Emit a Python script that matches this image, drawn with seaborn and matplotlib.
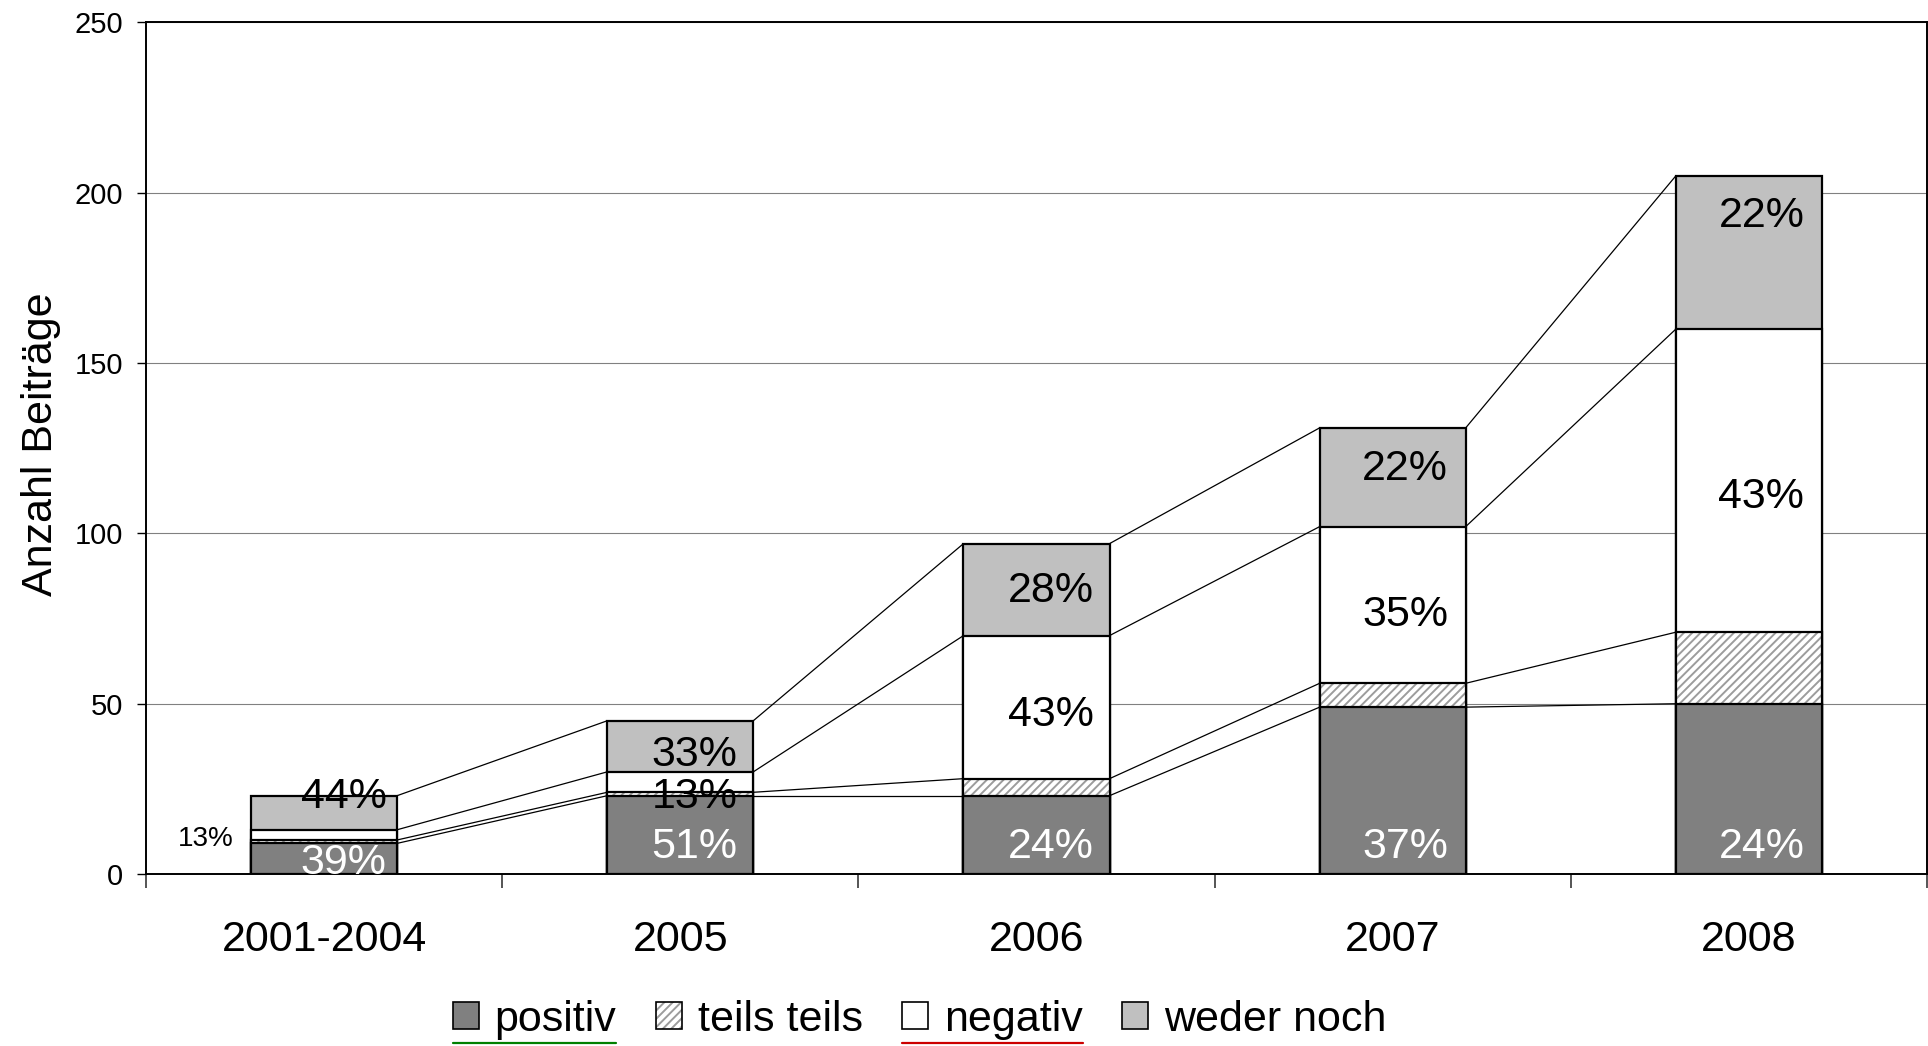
import numpy as np
import matplotlib
matplotlib.use("Agg")
import matplotlib.pyplot as plt
import matplotlib.colors as mcolors
from matplotlib.patches import Patch
from matplotlib.lines import Line2D
import seaborn as sns

# --- data -------------------------------------------------------------
categories = ["2001-2004", "2005", "2006", "2007", "2008"]
positiv = [9, 23, 23, 49, 50]
teils_teils = [1, 1, 5, 7, 21]
negativ = [3, 6, 42, 46, 89]
weder_noch = [10, 15, 27, 29, 45]

pct_positiv = ["39%", "51%", "24%", "37%", "24%"]
pct_negativ = ["13%", "13%", "43%", "35%", "43%"]
pct_weder = ["44%", "33%", "28%", "22%", "22%"]

series_names = ["positiv", "teils teils", "negativ", "weder noch"]
y_ticks = [0, 50, 100, 150, 200, 250]

# --- style ------------------------------------------------------------
sns.set_style("white")
plt.rcParams["font.family"] = ["Liberation Sans", "DejaVu Sans"]
plt.rcParams["hatch.linewidth"] = 1.4
plt.rcParams["text.color"] = "black"
plt.rcParams["axes.labelcolor"] = "black"
plt.rcParams["xtick.color"] = "black"
plt.rcParams["ytick.color"] = "black"
plt.rcParams["legend.labelcolor"] = "black"

col_pos = "#808080"
col_neg = "#ffffff"
col_wed = "#c0c0c0"
hatch_col = "#9c9c9c"
series_colors = [col_pos, "#ffffff", col_neg, col_wed]
series_hatch = [None, "////", None, None]

BAR_W = 0.41
EDGE_LW = 1.6

fig = plt.figure(figsize=(19.28, 10.46), dpi=100)
ax = fig.add_axes([0.0757, 0.1644, 0.9238, 0.8141])

segments = np.array([positiv, teils_teils, negativ, weder_noch], dtype=float)
cum = np.cumsum(segments, axis=0)

# stacked bars: cumulative totals drawn from the top series down
for k in [3, 2, 1, 0]:
    kws = dict(x=categories, y=cum[k], color=series_colors[k], saturation=1,
               width=BAR_W, edgecolor="black", linewidth=EDGE_LW,
               errorbar=None, ax=ax, zorder=2)
    if series_hatch[k]:
        kws["hatch"] = series_hatch[k]
    sns.barplot(**kws)
    if series_hatch[k]:
        for p in ax.containers[-1]:
            if hasattr(p, "set_hatchcolor"):
                p.set_hatchcolor(hatch_col)
            else:
                p._hatch_color = mcolors.to_rgba(hatch_col)

# series lines joining the segment tops of neighbouring bars
n = len(categories)
for k in range(4):
    for i in range(n - 1):
        ax.plot([i + BAR_W / 2, i + 1 - BAR_W / 2], [cum[k][i], cum[k][i + 1]],
                color="black", lw=0.9, zorder=3)


def put_label(x, y, s, color="black", size=31, ha="center"):
    # place the glyphs so that their visual centre sits on y
    ax.annotate(s, xy=(x, y), xytext=(0, -0.358 * size), textcoords="offset points",
                ha=ha, va="baseline", fontsize=size, color=color,
                clip_on=True, zorder=5)


DX = [0.055, 0.04, 0.04, 0.035, 0.035]
neg_nudge = [0.0, -3.2, -1.1, -1.8, -3.4]
wed_nudge = [5.8, -1.4, 0.9, 3.6, 11.9]
for i in range(n):
    pos_mid = positiv[i] / 2
    put_label(i + DX[i], min(pos_mid, 9.2), pct_positiv[i], color="white")
    neg_mid = cum[1][i] + negativ[i] / 2
    if i == 0:
        put_label(-0.254, neg_mid - 0.3, pct_negativ[i], size=20, ha="right")
    else:
        put_label(i + DX[i], neg_mid + neg_nudge[i], pct_negativ[i])
    wed_mid = cum[2][i] + weder_noch[i] / 2
    put_label(i + DX[i], wed_mid + wed_nudge[i], pct_weder[i])

# --- axes -------------------------------------------------------------
ax.set_xlim(-0.5, n - 0.5)
ax.set_ylim(0, 250)
ax.set_yticks(y_ticks)
ax.set_yticklabels([str(t) for t in y_ticks], fontsize=21)
ax.set_xticks(range(n))
ax.set_xticklabels(categories, fontsize=31)
ax.set_xticks(np.arange(-0.5, n, 1.0), minor=True)
ax.tick_params(axis="x", which="major", length=0, pad=33, labelcolor="black")
ax.tick_params(axis="x", which="minor", length=10, width=1.4, color="#555555",
               direction="out", bottom=True)
ax.tick_params(axis="y", which="major", length=6.5, width=1.0, color="black",
               direction="out", left=True, pad=10, labelcolor="black")
ax.set_xlabel("")
ax.set_ylabel("Anzahl Beiträge", fontsize=31, color="black")
ax.yaxis.set_label_coords(-0.0475, 0.505)

ax.set_axisbelow(True)
ax.yaxis.grid(True, color="#808080", lw=0.8)
ax.xaxis.grid(False)
for side in ["left", "top", "right", "bottom"]:
    ax.spines[side].set_visible(True)
    ax.spines[side].set_color("black")
    ax.spines[side].set_linewidth(1.4)

# --- legend -----------------------------------------------------------
handles = []
for k in range(4):
    h = Patch(facecolor=series_colors[k], edgecolor="black", lw=1.2,
              hatch=series_hatch[k], label=series_names[k])
    if series_hatch[k]:
        h._hatch_color = mcolors.to_rgba(hatch_col)
    handles.append(h)

leg = fig.legend(handles=handles, loc="center", bbox_to_anchor=(0.477, 0.025),
                 ncol=4, frameon=False, fontsize=31, handlelength=0.6,
                 handleheight=0.6, handletextpad=0.37, columnspacing=0.92,
                 borderaxespad=0, borderpad=0)
for h, src in zip(leg.legend_handles, handles):
    h._hatch_color = src._hatch_color
for t in leg.get_texts():
    t.set_color("black")

fig.canvas.draw()
renderer = fig.canvas.get_renderer()
W, H = fig.bbox.width, fig.bbox.height
for idx, col in [(0, "#008000"), (2, "#cc0000")]:
    hb = leg.legend_handles[idx].get_window_extent(renderer)
    tb = leg.get_texts()[idx].get_window_extent(renderer)
    y = 3.0 / H
    fig.add_artist(Line2D([hb.x0 / W, tb.x1 / W], [y, y], transform=fig.transFigure,
                          color=col, lw=1.6))

fig.savefig("out.png", dpi=100)
